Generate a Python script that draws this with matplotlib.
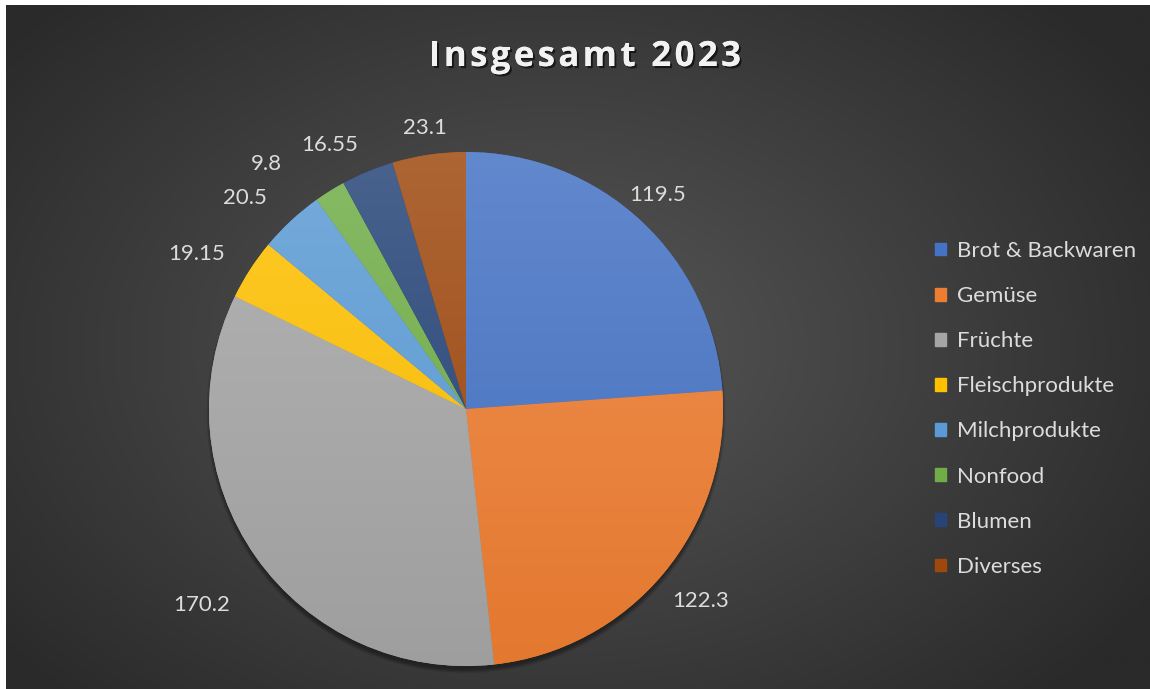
import numpy as np
import matplotlib
matplotlib.use("Agg")
import matplotlib.pyplot as plt
import matplotlib.patheffects as pe
from matplotlib.colors import to_rgb
from matplotlib.patches import Circle

# ---- data ----
categories = ["Brot & Backwaren", "Gemüse", "Früchte", "Fleischprodukte",
              "Milchprodukte", "Nonfood", "Blumen", "Diverses"]
values = [119.5, 122.3, 170.2, 19.15, 20.5, 9.8, 16.55, 23.1]
value_labels = ["119.5", "122.3", "170.2", "19.15", "20.5", "9.8", "16.55", "23.1"]
title = "Insgesamt 2023"

# ---- style ----
colors = ["#4472C4", "#ED7D31", "#A5A5A5", "#FFC000",
          "#5B9BD5", "#70AD47", "#264478", "#9E480E"]
label_dist = [1.12, 1.18, 1.28, 1.21, 1.19, 1.23, 1.155, 1.105]
label_shift = [1.1, 0.6, 1.4, 2.9, 3.4, 7.2, 4.8, 0.0]
text_color = "#dcdcdc"

W, H = 1150, 689
fig = plt.figure(figsize=(W / 100, H / 100), dpi=100, facecolor="white")

# background with radial gradient
bg = fig.add_axes([6 / W, 0, (W - 6) / W, (H - 5) / H])
bg.set_axis_off()
yy, xx = np.mgrid[0:1:400j, 0:1:600j]
cx, cy = 0.48, 0.5
r = np.sqrt(((xx - cx) / 0.62) ** 2 + ((yy - cy) / 0.72) ** 2)
r = np.clip(r, 0, 1)
c_in = np.array(to_rgb("#575757"))
c_out = np.array(to_rgb("#2a2a2a"))
img = c_in[None, None, :] * (1 - r[..., None]) + c_out[None, None, :] * r[..., None]
bg.imshow(img, extent=[0, 1, 0, 1], aspect="auto", origin="lower")
bg.set_xlim(0, 1)
bg.set_ylim(0, 1)

# pie axes
R_px = 257
cxp, cyp = 466, 409
half = 1.4 * R_px
ax = fig.add_axes([(cxp - half) / W, (H - cyp - half) / H, 2 * half / W, 2 * half / H])
ax.set_xlim(-1.4, 1.4)
ax.set_ylim(-1.4, 1.4)
ax.set_aspect("equal")
ax.set_axis_off()
ax.patch.set_alpha(0)

# soft shadow under the pie (mostly below)
for k in range(6):
    ax.add_patch(Circle((0.0, -0.018), 0.995 + k * 0.003, color="black",
                        alpha=0.07, linewidth=0, zorder=0.5))

wedges, _ = ax.pie(values, colors=colors, startangle=90, counterclock=False,
                   radius=1.0, wedgeprops=dict(linewidth=0, zorder=2))

def shade(c, f):
    c = np.array(to_rgb(c))
    if f >= 0:
        return c + (1 - c) * f
    return c * (1 + f)

gy = np.linspace(0, 1, 256)[:, None]
for w, col in zip(wedges, colors):
    top = shade(col, 0.16)
    bot = shade(col, -0.04)
    grad = bot[None, None, :] * (1 - gy[..., None]) + top[None, None, :] * gy[..., None]
    grad = np.repeat(grad, 2, axis=1)
    im = ax.imshow(grad, extent=[-1, 1, -1, 1], origin="lower", aspect="auto", zorder=3)
    im.set_clip_path(w)
ax.set_xlim(-1.4, 1.4)
ax.set_ylim(-1.4, 1.4)

for w, lab, d, s in zip(wedges, value_labels, label_dist, label_shift):
    mid = np.deg2rad((w.theta1 + w.theta2) / 2 + s)
    ax.text(d * np.cos(mid), d * np.sin(mid), lab, ha="center", va="center",
            fontsize=16, color=text_color, family="Lato", zorder=5)

# title with letter spacing
renderer = fig.canvas.get_renderer()
tkw = dict(fontsize=25, fontweight="bold", family="Open Sans", color="#f2f2f2",
           va="center", ha="left")
shadow = [pe.withSimplePatchShadow(offset=(1.5, -1.5), shadow_rgbFace="black", alpha=0.6),
          pe.Normal()]
target_w = 312.0
tmp = fig.text(0, 0, title, **tkw)
nat_w = tmp.get_window_extent(renderer).width
tmp.remove()
track = (target_w - nat_w) / (len(title) - 1)
x0 = 585 - target_w / 2
ty = 1 - 57 / H
for i, ch in enumerate(title):
    if i > 0:
        t = fig.text(0, 0, title[:i], **tkw)
        pw = t.get_window_extent(renderer).width
        t.remove()
    else:
        pw = 0.0
    if ch == " ":
        continue
    fig.text((x0 + pw + i * track) / W, ty, ch, path_effects=shadow, **tkw)

# legend
handles = [plt.Rectangle((0, 0), 1, 1, color=c) for c in colors]
leg = fig.legend(handles, categories, loc="upper left",
                 bbox_to_anchor=(935 / W, 1 - 241 / H), frameon=False,
                 handlelength=0.5, handleheight=0.5, handletextpad=0.5,
                 labelspacing=1.13, fontsize=16, borderaxespad=0, borderpad=0)
for t in leg.get_texts():
    t.set_color(text_color)
    t.set_family("Lato")

fig.savefig("out.png", dpi=100, facecolor="white")
